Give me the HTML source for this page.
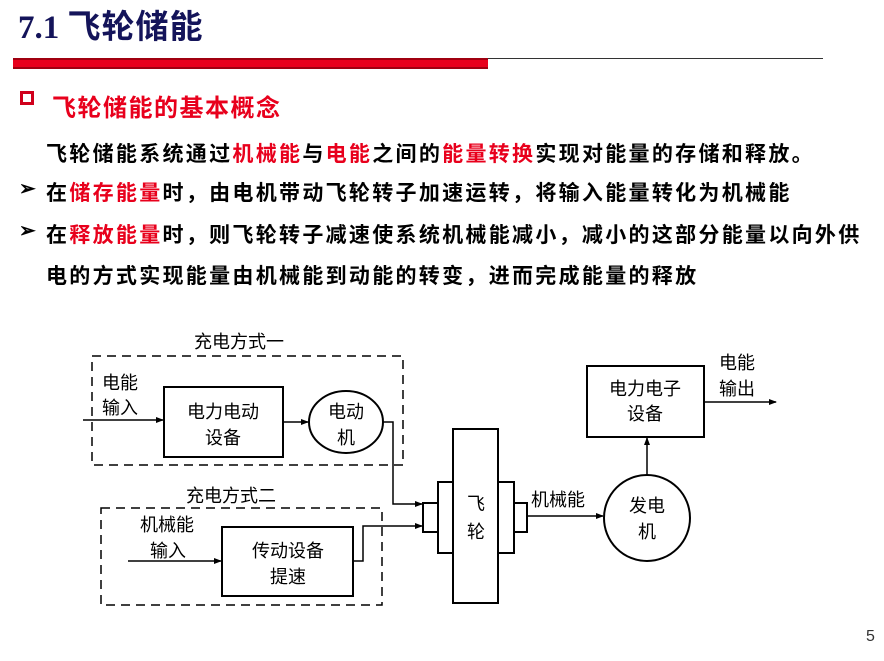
<!DOCTYPE html>
<html><head><meta charset="utf-8"><style>
body{margin:0;width:884px;height:661px;background:#fff;position:relative;overflow:hidden;font-family:"Liberation Sans","Noto Sans CJK SC",sans-serif}
.t{position:absolute;white-space:nowrap}
.b{font-weight:bold;font-size:21px;letter-spacing:2.3px;color:#000}
.r{color:#e8001c}
</style></head><body>
<div class="t" style="left:18px;top:0px;font-size:33px;font-weight:bold;color:#14145a;font-family:'Liberation Serif','Noto Serif CJK SC',serif">7.1 <span style="font-family:'Liberation Sans','Noto Sans CJK SC',sans-serif;font-weight:bold;letter-spacing:1px">飞轮储能</span></div>
<div style="position:absolute;left:13px;top:58px;width:475px;height:11px;background:#e8001c;border-top:2px solid #a00010;border-bottom:2px solid #a00010;box-sizing:border-box"></div>
<div style="position:absolute;left:488px;top:58px;width:335px;height:1px;background:#333"></div>
<div style="position:absolute;left:20px;top:91px;width:14px;height:14px;border:3px solid #d0001c;box-sizing:border-box"></div>
<div class="t b r" style="left:52px;top:88px;font-size:24px;letter-spacing:1.5px">飞轮储能的基本概念</div>
<div class="t b" style="left:46px;top:138px">飞轮储能系统通过<span class="r">机械能</span>与<span class="r">电能</span>之间的<span class="r">能量转换</span>实现对能量的存储和释放。</div>
<div class="t" style="left:19px;top:176px;font-size:20px;font-weight:bold">➢</div>
<div class="t b" style="left:46px;top:177px">在<span class="r">储存能量</span>时，由电机带动飞轮转子加速运转，将输入能量转化为机械能</div>
<div class="t" style="left:19px;top:218px;font-size:20px;font-weight:bold">➢</div>
<div class="t b" style="left:46px;top:219px">在<span class="r">释放能量</span>时，则飞轮转子减速使系统机械能减小，减小的这部分能量以向外供</div>
<div class="t b" style="left:46px;top:260px">电的方式实现能量由机械能到动能的转变，进而完成能量的释放</div>
<div class="t" style="left:866px;top:628px;font-size:16px;color:#333">5</div>
<svg width="884" height="661" style="position:absolute;left:0;top:0" font-family="Liberation Sans,Noto Sans CJK SC,sans-serif" font-size="18">
<defs><marker id="a" markerWidth="8" markerHeight="8" refX="7" refY="4" orient="auto" markerUnits="userSpaceOnUse"><path d="M0,1 L8,4 L0,7z" fill="#000"/></marker></defs>
<g fill="none" stroke="#000" stroke-width="1.5">
<rect x="92" y="356" width="311" height="109" stroke-dasharray="9,6"/>
<rect x="101" y="508" width="281" height="97" stroke-dasharray="9,6"/>
<rect x="164" y="387" width="119" height="70" stroke-width="2"/>
<ellipse cx="346" cy="422" rx="37" ry="31" stroke-width="2"/>
<rect x="222" y="527" width="131" height="69" stroke-width="2"/>
<rect x="453" y="429" width="45" height="174" stroke-width="2"/>
<rect x="438" y="482" width="15" height="71" stroke-width="2"/>
<rect x="498" y="482" width="16" height="71" stroke-width="2"/>
<rect x="423" y="503" width="15" height="29" stroke-width="2"/>
<rect x="514" y="503" width="13" height="29" stroke-width="2"/>
<rect x="587" y="366" width="117" height="71" stroke-width="2"/>
<circle cx="647" cy="518" r="43" stroke-width="2"/>
<path d="M83 420 H163" marker-end="url(#a)"/>
<path d="M283 422 H308" marker-end="url(#a)"/>
<path d="M383 422 H393 V504 H422" marker-end="url(#a)"/>
<path d="M128 561 H221" marker-end="url(#a)"/>
<path d="M353 561 H363 V526 H422" marker-end="url(#a)"/>
<path d="M527 516 H603" marker-end="url(#a)"/>
<path d="M647 475 V438" marker-end="url(#a)"/>
<path d="M704 402 H776" marker-end="url(#a)"/>
</g>
<g fill="#000">
<text x="194" y="348">充电方式一</text>
<text x="186" y="502">充电方式二</text>
<text x="102" y="389">电能</text>
<text x="102" y="414">输入</text>
<text x="223" y="418" text-anchor="middle">电力电动</text>
<text x="223" y="444" text-anchor="middle">设备</text>
<text x="346" y="418" text-anchor="middle">电动</text>
<text x="346" y="444" text-anchor="middle">机</text>
<text x="140" y="531">机械能</text>
<text x="150" y="557">输入</text>
<text x="288" y="557" text-anchor="middle">传动设备</text>
<text x="288" y="583" text-anchor="middle">提速</text>
<text x="476" y="510" text-anchor="middle">飞</text>
<text x="476" y="538" text-anchor="middle">轮</text>
<text x="531" y="506">机械能</text>
<text x="647" y="512" text-anchor="middle">发电</text>
<text x="647" y="538" text-anchor="middle">机</text>
<text x="645" y="395" text-anchor="middle">电力电子</text>
<text x="645" y="420" text-anchor="middle">设备</text>
<text x="719" y="369">电能</text>
<text x="719" y="395">输出</text>
</g>
</svg>
</body></html>
